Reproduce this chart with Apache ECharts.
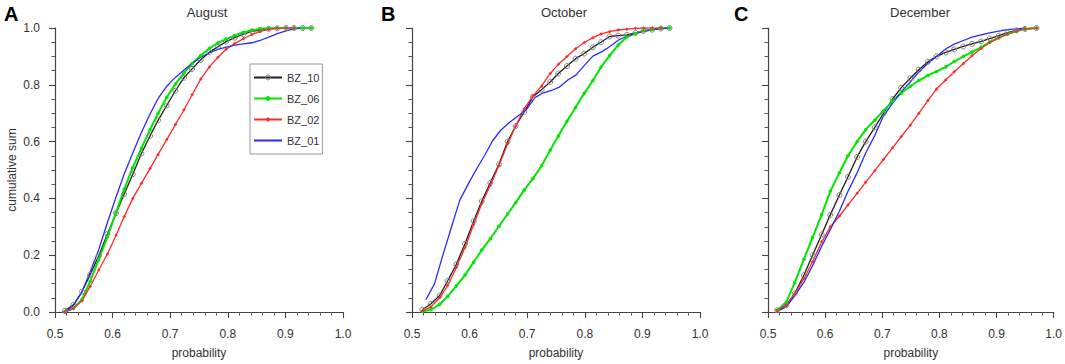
<!DOCTYPE html>
<html>
<head>
<meta charset="utf-8">
<script src="https://cdn.jsdelivr.net/npm/echarts@6/dist/echarts.min.js"></script>
<style>html,body{margin:0;padding:0;background:#fff}#c{width:1065px;height:364px}</style>
</head>
<body>
<div id="c"></div>
<script>
// ---------- data ----------
const panelTitles = ['August', 'October', 'December'];
const panelLetters = ['A', 'B', 'C'];
const seriesNames = ['BZ_10', 'BZ_06', 'BZ_02', 'BZ_01'];
const xTickLabels = ['0.5', '0.6', '0.7', '0.8', '0.9', '1.0'];
const yTickLabels = ['0.0', '0.2', '0.4', '0.6', '0.8', '1.0'];

// August (A)
const xA = [0.517,0.532,0.547,0.561,0.576,0.591,0.606,0.620,0.635,0.650,0.665,0.679,0.694,0.709,0.724,0.738,0.753,0.768,0.783,0.797,0.812,0.827,0.842,0.856,0.871,0.886,0.901,0.915,0.930,0.945];
const augBZ10 = [0.004,0.025,0.072,0.131,0.198,0.275,0.348,0.415,0.485,0.558,0.62,0.675,0.727,0.779,0.825,0.856,0.888,0.915,0.934,0.952,0.966,0.978,0.988,0.993,0.997,0.999,1.0,1.0,1.0,1.0];
const augBZ06 = [0.002,0.012,0.045,0.108,0.185,0.265,0.35,0.432,0.508,0.577,0.642,0.7,0.756,0.803,0.842,0.875,0.903,0.928,0.948,0.961,0.974,0.985,0.992,0.997,0.999,1.0,1.0,1.0,1.0,1.0];
const augBZ02 = [0.0,0.012,0.04,0.09,0.148,0.204,0.27,0.335,0.4,0.453,0.505,0.555,0.607,0.66,0.712,0.765,0.82,0.863,0.897,0.925,0.945,0.962,0.977,0.988,0.995,0.999,1.0,1.0];
const augBZ01 = [0.0,0.022,0.072,0.14,0.22,0.315,0.405,0.485,0.56,0.632,0.697,0.752,0.795,0.826,0.852,0.875,0.897,0.913,0.925,0.933,0.94,0.944,0.948,0.956,0.968,0.98,0.99,0.997,1.0];

// October (B)
const xB = [0.518,0.533,0.548,0.562,0.577,0.592,0.607,0.621,0.636,0.651,0.666,0.680,0.695,0.710,0.725,0.740,0.754,0.769,0.784,0.799,0.814,0.828,0.843,0.858,0.873,0.888,0.902,0.917,0.932,0.947];
const octBZ10 = [0.008,0.029,0.058,0.11,0.168,0.24,0.32,0.39,0.455,0.52,0.6,0.655,0.705,0.758,0.783,0.81,0.84,0.866,0.892,0.91,0.932,0.95,0.97,0.973,0.976,0.983,0.99,0.994,0.998,1.0];
const octBZ06 = [0.002,0.008,0.027,0.055,0.092,0.13,0.175,0.218,0.258,0.302,0.345,0.385,0.43,0.47,0.515,0.57,0.62,0.672,0.72,0.77,0.815,0.862,0.903,0.94,0.968,0.981,0.99,0.995,0.999,1.0];
const octBZ02 = [0.003,0.018,0.05,0.093,0.157,0.227,0.307,0.381,0.446,0.516,0.592,0.655,0.716,0.761,0.796,0.84,0.872,0.9,0.927,0.949,0.966,0.979,0.987,0.993,0.996,0.999,1.0,1.0,1.0];
const xB01 = [0.524,0.539,0.554,0.568,0.583,0.598,0.611,0.626,0.640,0.654,0.669,0.684,0.698,0.713,0.727,0.742,0.756,0.771,0.785,0.800,0.814,0.829,0.843,0.858,0.872,0.887,0.903,0.918,0.932,0.947];
const octBZ01 = [0.043,0.099,0.203,0.296,0.394,0.452,0.5,0.551,0.603,0.64,0.667,0.69,0.711,0.754,0.771,0.78,0.792,0.818,0.835,0.87,0.901,0.916,0.934,0.957,0.971,0.98,0.988,0.994,0.998,1.0];

// December (C)
const xC = [0.516,0.532,0.547,0.563,0.578,0.594,0.609,0.625,0.640,0.656,0.671,0.687,0.702,0.718,0.733,0.749,0.764,0.780,0.795,0.811,0.826,0.842,0.857,0.873,0.888,0.904,0.919,0.935,0.950,0.970];
const decBZ10 = [0.006,0.024,0.066,0.13,0.2,0.273,0.342,0.412,0.476,0.546,0.6,0.65,0.699,0.75,0.789,0.823,0.853,0.881,0.9,0.914,0.925,0.935,0.944,0.953,0.963,0.973,0.984,0.992,0.997,1.0];
const decBZ06 = [0.006,0.035,0.104,0.186,0.262,0.343,0.425,0.49,0.55,0.6,0.642,0.676,0.708,0.742,0.77,0.795,0.815,0.833,0.847,0.863,0.882,0.9,0.915,0.932,0.95,0.966,0.979,0.989,0.996,1.0];
const decBZ02 = [0.004,0.025,0.065,0.118,0.177,0.247,0.3,0.338,0.377,0.418,0.457,0.498,0.537,0.578,0.617,0.658,0.699,0.745,0.785,0.817,0.846,0.875,0.902,0.928,0.949,0.965,0.978,0.989,0.997,1.0];
const decBZ01 = [0.002,0.018,0.058,0.105,0.163,0.232,0.29,0.355,0.425,0.49,0.56,0.622,0.69,0.735,0.775,0.81,0.845,0.876,0.9,0.926,0.943,0.956,0.968,0.976,0.983,0.989,0.994,0.997,1.0];

// ---------- chart ----------
const zip = (xs, ys) => ys.map((y, i) => [xs[i], y]);
const panels = [
  { BZ_10: zip(xA, augBZ10), BZ_06: zip(xA, augBZ06), BZ_02: zip(xA, augBZ02), BZ_01: zip(xA, augBZ01) },
  { BZ_10: zip(xB, octBZ10), BZ_06: zip(xB, octBZ06), BZ_02: zip(xB, octBZ02), BZ_01: zip(xB01, octBZ01) },
  { BZ_10: zip(xC, decBZ10), BZ_06: zip(xC, decBZ06), BZ_02: zip(xC, decBZ02), BZ_01: zip(xC, decBZ01) }
];

const FONT = 'Liberation Sans, Arial, Helvetica, sans-serif';
const gridLefts = [55, 412, 768];
const gridW = 288, gridTop = 28, gridH = 287;

const styles = {
  BZ_10: { color: '#1e1e1e', width: 1.3, symbol: 'circle', size: 5, item: { color: 'rgba(0,0,0,0)', borderColor: '#808080', borderWidth: 1 } },
  BZ_06: { color: '#00e600', width: 2, symbol: 'circle', size: 3.5, item: { color: '#00e600' } },
  BZ_02: { color: '#ff2a2a', width: 1.3, symbol: 'diamond', size: 3.5, item: { color: '#ff2a2a' } },
  BZ_01: { color: '#2a2aff', width: 1.3, symbol: 'none', size: 0, item: { color: '#2a2aff' } }
};

const grids = [], xAxes = [], yAxes = [], series = [], graphics = [];
const axisLineStyle = { color: '#444', width: 1.2 };
panels.forEach((p, i) => {
  grids.push({ left: gridLefts[i], top: gridTop, width: gridW, height: gridH, containLabel: false });
  xAxes.push({
    type: 'value', gridIndex: i, min: 0.5, max: 1.0, interval: 0.1,
    axisLine: { lineStyle: axisLineStyle },
    axisTick: { length: 6, lineStyle: { color: '#444', width: 1.1 } },
    minorTick: { show: true, splitNumber: 5, length: 3.5, lineStyle: { color: '#555' } },
    splitLine: { show: false }, minorSplitLine: { show: false },
    axisLabel: { formatter: v => xTickLabels[Math.round((v - 0.5) * 10)], fontSize: 12, color: '#333', margin: 16, fontFamily: FONT },
    name: 'probability', nameLocation: 'middle', nameGap: 35,
    nameTextStyle: { fontSize: 12, color: '#333', fontFamily: FONT }
  });
  yAxes.push({
    type: 'value', gridIndex: i, min: 0, max: 1, interval: 0.2,
    axisLine: { show: true, lineStyle: axisLineStyle },
    axisTick: { show: true, length: 6, lineStyle: { color: '#444', width: 1.1 } },
    minorTick: { show: true, splitNumber: 4, length: 3.5, lineStyle: { color: '#555' } },
    splitLine: { show: false }, minorSplitLine: { show: false },
    axisLabel: { show: i === 0, formatter: v => yTickLabels[Math.round(v * 5)], fontSize: 12, color: '#333', margin: 15, fontFamily: FONT },
    name: i === 0 ? 'cumulative sum' : '', nameLocation: 'middle', nameGap: 37,
    nameTextStyle: { fontSize: 12, color: '#333', fontFamily: FONT }
  });
  seriesNames.forEach(n => {
    const s = styles[n];
    series.push({
      name: n, type: 'line', xAxisIndex: i, yAxisIndex: i, data: p[n],
      symbol: s.symbol, symbolSize: s.size, showSymbol: s.symbol !== 'none', showAllSymbol: true,
      lineStyle: { color: s.color, width: s.width },
      itemStyle: s.item, color: s.color,
      animation: false, silent: true
    });
  });
  const cx = gridLefts[i] + gridW / 2 + 8;
  graphics.push({ type: 'text', x: cx, y: 12, style: { text: panelTitles[i], fill: '#333', font: '13px ' + FONT, align: 'center', verticalAlign: 'middle' } });
  graphics.push({ type: 'text', x: [4, 381, 734][i], y: 14, style: { text: panelLetters[i], fill: '#000', font: 'bold 20px ' + FONT, align: 'left', verticalAlign: 'middle' } });
});

const chart = echarts.init(document.getElementById('c'), null, { renderer: 'svg' });
chart.setOption({
  animation: false,
  backgroundColor: '#fff',
  grid: grids, xAxis: xAxes, yAxis: yAxes, series: series,
  legend: {
    data: [
      { name: 'BZ_10', itemStyle: { color: 'rgba(0,0,0,0)', borderColor: '#808080', borderWidth: 1 } },
      { name: 'BZ_06' },
      { name: 'BZ_02' },
      { name: 'BZ_01', itemStyle: { opacity: 0 } }
    ],
    orient: 'vertical', left: 250, top: 64,
    itemWidth: 28, itemHeight: 6, itemGap: 10, padding: [8, 3, 8, 3],
    borderColor: '#999', borderWidth: 1, selectedMode: false,
    textStyle: { fontSize: 11, color: '#333', fontFamily: FONT }
  },
  graphic: graphics
});
</script>
</body>
</html>
